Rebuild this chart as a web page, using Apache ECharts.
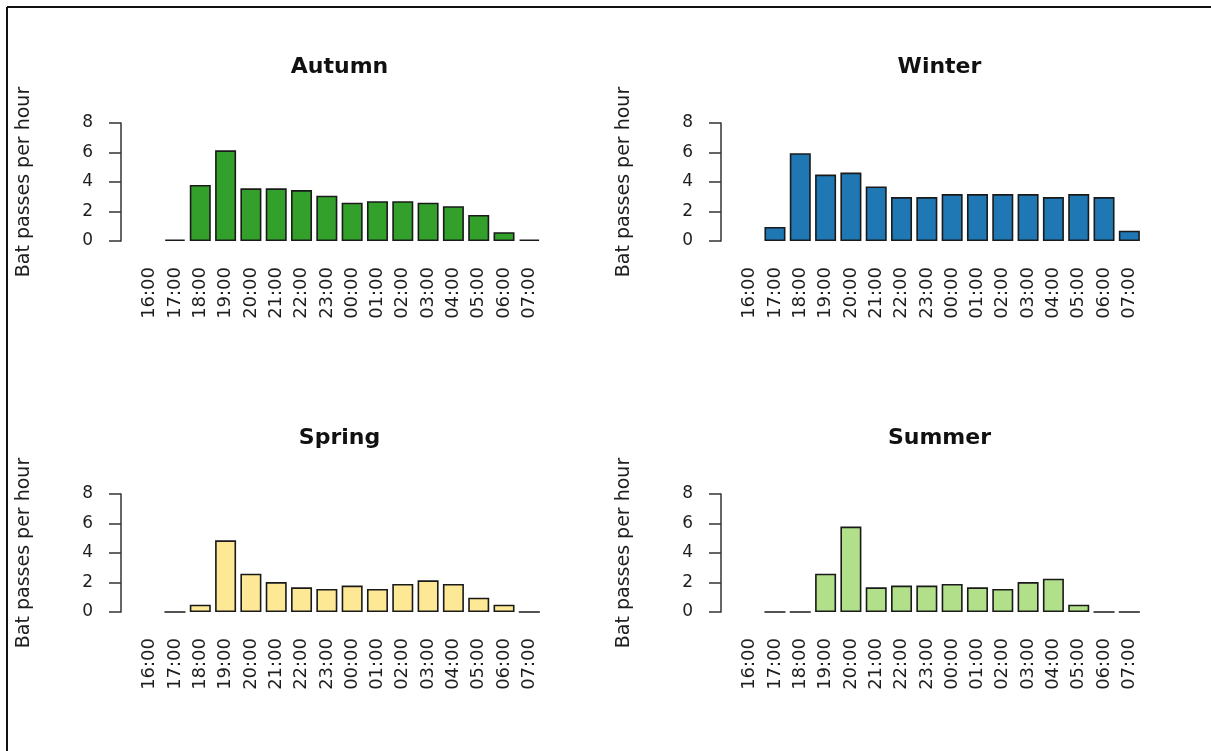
<!DOCTYPE html>
<html>
<head>
<meta charset="utf-8">
<title>Bat activity by hour and season</title>
<script src="https://cdn.jsdelivr.net/npm/echarts@6/dist/echarts.min.js"></script>
<style>
  html, body { margin: 0; padding: 0; background: #ffffff; }
  #chart { width: 1211px; height: 751px; }
</style>
</head>
<body>
<div id="chart"></div>
<script>
// Hour-of-night categories (bars start at 17:00; 16:00 has no data)
const hours = ['16:00', '17:00', '18:00', '19:00', '20:00', '21:00', '22:00', '23:00',
               '00:00', '01:00', '02:00', '03:00', '04:00', '05:00', '06:00', '07:00'];

// Mean bat passes per hour for each season
const autumn = [null, 0.1, 3.8, 6.15, 3.57, 3.57, 3.45, 3.07, 2.6, 2.7, 2.7, 2.6, 2.36, 1.77, 0.6, 0.1];
const winter = [null, 0.95, 5.95, 4.5, 4.64, 3.7, 2.98, 2.98, 3.18, 3.18, 3.18, 3.18, 2.98, 3.18, 2.98, 0.7];
const spring = [null, 0, 0.5, 4.86, 2.6, 2.03, 1.67, 1.56, 1.79, 1.56, 1.9, 2.15, 1.9, 0.97, 0.5, 0];
const summer = [null, 0, 0, 2.6, 5.79, 1.67, 1.79, 1.79, 1.9, 1.67, 1.56, 2.03, 2.26, 0.5, 0, 0];

const yTicks = [0, 2, 4, 6, 8];
const yLabel = 'Bat passes per hour';

const panels = [
  { name: 'Autumn', data: autumn, color: '#33a02c', left: 137, top: 123 },
  { name: 'Winter', data: winter, color: '#1f78b4', left: 737, top: 123 },
  { name: 'Spring', data: spring, color: '#fde896', left: 137, top: 494 },
  { name: 'Summer', data: summer, color: '#b2df8a', left: 737, top: 494 }
];

const FONT = 'DejaVu Sans';
const INK = '#1e1e1e';
const W = 405, H = 118;

const option = {
  backgroundColor: '#ffffff',
  animation: false,
  title: panels.map(p => ({
    text: p.name,
    left: p.left + W / 2,
    top: p.top - 67,
    textAlign: 'center',
    padding: 0,
    textStyle: { fontFamily: FONT, fontWeight: 'bold', fontSize: 22, color: '#111' }
  })),
  grid: panels.map(p => ({ left: p.left, top: p.top, width: W, height: H, containLabel: false })),
  xAxis: panels.map((p, i) => ({
    type: 'category',
    gridIndex: i,
    data: hours,
    boundaryGap: true,
    axisLine: { show: false },
    axisTick: { show: false },
    axisLabel: {
      rotate: 90, margin: 26, interval: 0,
      fontFamily: FONT, fontSize: 18, color: INK
    }
  })),
  yAxis: panels.map((p, i) => ({
    type: 'value',
    gridIndex: i,
    min: yTicks[0],
    max: yTicks[yTicks.length - 1],
    interval: 2,
    offset: 16,
    name: yLabel,
    nameLocation: 'middle',
    nameRotate: 90,
    nameGap: 87,
    nameTextStyle: { fontFamily: FONT, fontSize: 19, color: INK },
    splitLine: { show: false },
    axisLine: { show: true, lineStyle: { color: '#333', width: 1.5 } },
    axisTick: { show: true, length: 12, lineStyle: { color: '#333', width: 1.5 } },
    axisLabel: { margin: 28, fontFamily: FONT, fontSize: 17, color: INK }
  })),
  series: panels.map((p, i) => ({
    type: 'bar',
    name: p.name,
    xAxisIndex: i,
    yAxisIndex: i,
    data: p.data,
    barWidth: '83%',
    itemStyle: { color: p.color, borderColor: '#1a1a1a', borderWidth: 1.6 }
  })),
  graphic: [
    // frame lines along the top and left edges
    { type: 'line', shape: { x1: 7, y1: 7, x2: 1211, y2: 7 }, style: { stroke: '#111', lineWidth: 2 } },
    { type: 'line', shape: { x1: 7, y1: 7, x2: 7, y2: 751 }, style: { stroke: '#111', lineWidth: 2 } }
  ]
};

const chart = echarts.init(document.getElementById('chart'), null, { renderer: 'canvas' });
chart.setOption(option);
</script>
</body>
</html>
